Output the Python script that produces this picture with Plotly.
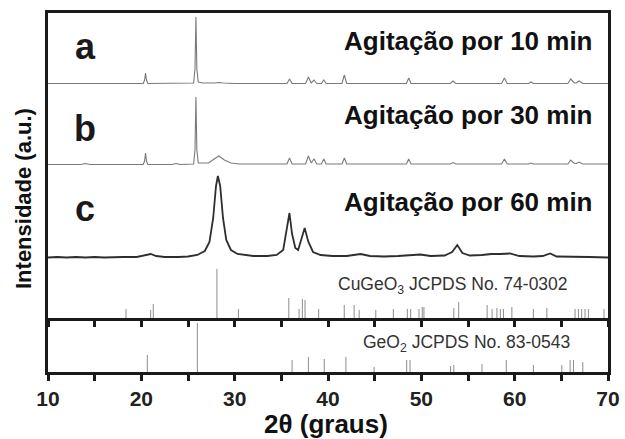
import plotly.graph_objects as go

# ---------------- data ----------------
# Sample a: agitation 10 min  (2theta, relative intensity)
a_x = [10, 14.0, 20.2, 20.35, 20.45, 20.55, 20.7, 25.6, 25.75, 25.85, 25.95, 26.1, 26.6, 27.8, 28.3, 28.8, 30, 35.6, 35.88, 36.15,
       37.6, 37.9, 38.2, 38.5, 38.8, 39.3, 39.55, 39.8, 41.5, 41.75, 42.0, 48.4, 48.65, 48.9, 53.1, 53.4, 53.7,
       58.6, 58.9, 59.2, 61.5, 61.75, 62.0, 65.7, 66.0, 66.4, 66.6, 66.9, 67.3, 70]
a_y = [0.5, 0.5, 0.5, 4, 11, 4, 0.5, 1, 15, 67, 15, 2, 1, 1, 1.5, 1, 0.5, 0.5, 5, 0.5,
       0.5, 7, 1, 4, 0.5, 0.5, 4, 0.5, 0.5, 9, 0.5, 0.5, 6, 0.5, 0.5, 3, 0.5,
       0.5, 6, 0.5, 0.5, 2, 0.5, 0.5, 5, 1, 1, 3, 0.5, 0.5]

# Sample b: agitation 30 min
b_x = [10, 13.5, 14.0, 14.5, 20.2, 20.35, 20.45, 20.55, 20.7, 23.3, 23.7, 24.2, 25.6, 25.75, 25.85, 25.95, 26.1, 27.2, 27.8, 28.3,
       28.9, 29.6, 30.5, 35.6, 35.88, 36.15, 37.6, 37.9, 38.2, 38.5, 38.8, 39.3, 39.55, 39.8, 41.5, 41.75, 42.0,
       48.4, 48.65, 48.9, 53.1, 53.4, 53.7, 58.6, 58.9, 59.2, 61.5, 61.75, 62.0, 65.7, 66.0, 66.4, 66.6, 66.9, 67.3, 70]
b_y = [0.5, 0.5, 1.5, 0.5, 0.5, 4, 12, 4, 0.5, 0.5, 1.5, 0.5, 1, 15, 68, 15, 2, 2, 6, 9,
       5, 2, 1, 1, 7, 1, 1, 9, 2, 6, 1, 1, 6, 1, 1, 7, 1,
       1, 6, 1, 1, 2.5, 1, 1, 6, 1, 1, 2, 1, 1, 5, 1.5, 1.5, 3, 1, 1]

# Sample c: agitation 60 min
c_x = [10, 11, 12, 13, 14, 15, 16, 17, 18, 19.5, 20.5, 21.0, 21.6, 22.5, 24, 25, 26, 26.8, 27.3, 27.7, 28.0, 28.2,
       28.45, 28.75, 29.1, 29.6, 30.3, 31, 32, 33.5, 34.5, 35.2, 35.6, 35.87, 36.15, 36.5, 36.8, 37.1, 37.5,
       37.9, 38.4, 39.2, 40.5, 42, 43.5, 44.5, 46, 47.5, 49.9, 51, 52.5, 53.3, 53.85, 54.4, 55.2, 56.5, 57.5,
       58.5, 59.5, 60.5, 62, 63.0, 63.8, 64.5, 66, 68, 70]
c_y = [0.5, 1, 0.5, 1, 0.5, 1, 0.5, 1, 1, 1, 3, 4, 2, 1, 1, 1.5, 3, 7, 16, 40, 72, 82,
       72, 40, 18, 8, 4, 3, 2, 2, 3, 8, 28, 45, 24, 10, 8, 18, 30,
       16, 6, 3, 2, 2, 4, 2, 1.5, 2, 3.5, 2, 2.5, 6, 13, 5, 2.5, 3, 4,
       4, 4.5, 2, 1.5, 2, 4.5, 1.5, 1.5, 1, 0.5]

# Reference patterns (stick positions, relative heights)
cugeo3_pos = [18.36, 21.0, 21.28, 28.1, 30.4, 35.8, 36.9, 37.25, 37.54, 39.0, 41.74, 42.8, 43.34, 45.12, 47.0, 48.5,
              48.86, 49.75, 50.1, 50.28, 53.48, 54.0, 57.05, 57.58, 58.1, 58.47, 58.8, 59.7, 62.0, 63.45, 66.47,
              66.83, 67.18, 67.54, 67.9, 69.57]
cugeo3_h = [9, 8, 14, 49, 9, 20, 9, 19, 18, 9, 13, 13, 8, 8, 9, 9,
            9, 9, 11, 11, 10, 16, 13, 9, 10, 9, 9, 11, 9, 10, 9,
            9, 9, 9, 9, 9]
geo2_pos = [20.64, 26.0, 36.15, 37.9, 39.6, 41.92, 44.94, 48.43, 48.79, 53.13, 53.48, 56.5, 59.1, 62.0, 65.05,
            65.94, 66.3, 67.3]
geo2_h = [17, 49, 12, 15, 13, 15, 5, 12, 12, 6, 7, 8, 12, 7, 7, 12, 12, 10]

tick_vals = [10, 15, 20, 25, 30, 35, 40, 45, 50, 55, 60, 65, 70]
tick_text = ["10", "", "20", "", "30", "", "40", "", "50", "", "60", "", "70"]

sample_letters = ["a", "b", "c"]
sample_titles = ["Agitação por 10 min", "Agitação por 30 min", "Agitação por 60 min"]

# ---------------- layout constants ----------------
W, H = 625, 439
L, R, T, B = 48, 608, 13, 372
DIV = 318
baselines_px = [84, 165, 258]
offsets = [DIV - p for p in baselines_px]     # baselines in upper-panel units
FONT = "Arial, Liberation Sans, sans-serif"


def xp(px):
    return (px - L) / (R - L)


def yp(py):
    return (B - py) / (B - T)


def sticks(pos, h):
    xs, ys = [], []
    for p, v in zip(pos, h):
        xs += [p, p, None]
        ys += [0, v, None]
    return xs, ys


fig = go.Figure()

series = [(a_x, a_y, "#7a7a7a", 1.1), (b_x, b_y, "#7a7a7a", 1.1), (c_x, c_y, "#2e2e2e", 1.8)]
for (xs, ys, col, lw), off in zip(series, offsets):
    fig.add_trace(go.Scatter(x=xs, y=[v + off for v in ys], mode="lines",
                             line=dict(color=col, width=lw), xaxis="x2", yaxis="y2",
                             showlegend=False, hoverinfo="skip"))

sx, sy = sticks(cugeo3_pos, cugeo3_h)
fig.add_trace(go.Scatter(x=sx, y=sy, mode="lines", line=dict(color="#8c8c8c", width=1),
                         xaxis="x2", yaxis="y2", showlegend=False, hoverinfo="skip"))
gx, gy = sticks(geo2_pos, geo2_h)
fig.add_trace(go.Scatter(x=gx, y=gy, mode="lines", line=dict(color="#8c8c8c", width=1),
                         xaxis="x", yaxis="y", showlegend=False, hoverinfo="skip"))

split = (B - DIV) / (B - T)
axis_common = dict(showline=True, linecolor="#1a1a1a", linewidth=3, showgrid=False, zeroline=False,
                   automargin=False)

fig.update_layout(
    width=W, height=H, autosize=False,
    margin=dict(l=L, r=W - R, t=T, b=H - B, pad=0, autoexpand=False),
    paper_bgcolor="white", plot_bgcolor="white",
    xaxis=dict(range=[10, 70], anchor="y", tickmode="array", tickvals=tick_vals, ticktext=tick_text,
               ticks="outside", ticklen=6, tickwidth=3, tickcolor="#1a1a1a", mirror=False,
               tickfont=dict(family=FONT, size=21, color="#222", weight="bold"), **axis_common),
    yaxis=dict(domain=[0, split], range=[0, B - DIV], showticklabels=False, ticks="", mirror=True,
               **axis_common),
    xaxis2=dict(range=[10, 70], anchor="y2", matches="x", tickmode="array", tickvals=tick_vals,
                ticks="outside", ticklen=6, tickwidth=3, tickcolor="#1a1a1a", showticklabels=False,
                mirror=True, **axis_common),
    yaxis2=dict(domain=[split, 1], range=[0, DIV - T], showticklabels=False, ticks="", mirror=True,
                **axis_common),
)

ann = []
for letter, py in zip(sample_letters, [46, 128, 208]):
    ann.append(dict(x=xp(85), y=yp(py), xref="paper", yref="paper", text=letter, showarrow=False,
                    font=dict(family=FONT, size=36, color="#1a1a1a", weight="bold"),
                    xanchor="center", yanchor="middle"))
for title, py in zip(sample_titles, [41, 115, 202]):
    ann.append(dict(x=xp(595), y=yp(py), xref="paper", yref="paper", text=title, showarrow=False,
                    font=dict(family=FONT, size=26, color="#111", weight="bold"),
                    xanchor="right", yanchor="middle"))
ann.append(dict(x=xp(570), y=yp(285), xref="paper", yref="paper",
                text="CuGeO<sub>3</sub> JCPDS No. 74-0302", showarrow=False,
                font=dict(family=FONT, size=17.5, color="#333"), xanchor="right", yanchor="middle"))
ann.append(dict(x=xp(572), y=yp(343), xref="paper", yref="paper",
                text="GeO<sub>2</sub> JCPDS No. 83-0543", showarrow=False,
                font=dict(family=FONT, size=17.5, color="#333"), xanchor="right", yanchor="middle"))
ann.append(dict(x=xp(326), y=yp(424), xref="paper", yref="paper", text="2θ (graus)", showarrow=False,
                font=dict(family=FONT, size=26, color="#111", weight="bold"),
                xanchor="center", yanchor="middle"))
ann.append(dict(x=xp(24), y=yp(199), xref="paper", yref="paper", text="Intensidade (a.u.)",
                showarrow=False, textangle=-90,
                font=dict(family=FONT, size=22, color="#111", weight="bold"),
                xanchor="center", yanchor="middle"))
fig.update_layout(annotations=ann)

fig.write_html("out.html", config={"displayModeBar": False, "responsive": False},
               post_script="document.body.style.margin='0px';document.body.style.padding='0px';"
                           "document.body.style.overflow='hidden';")
